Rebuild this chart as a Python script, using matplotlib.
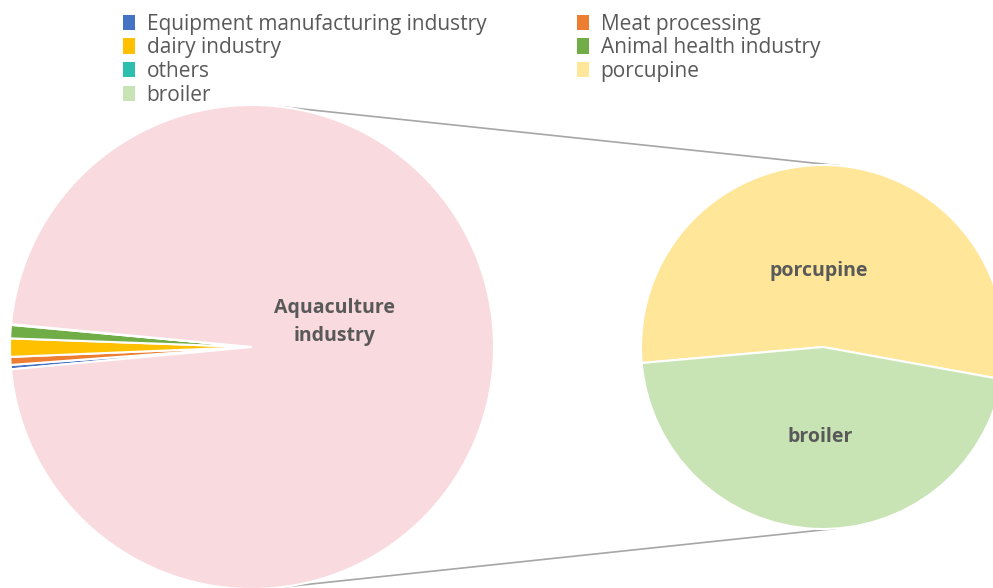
import matplotlib.pyplot as plt
from matplotlib.patches import Patch
import numpy as np

plt.rcParams['font.family'] = ['Open Sans', 'DejaVu Sans']

# main pie (Excel "pie of pie"): small slices + combined slice
main_labels = ['Equipment manufacturing industry', 'Meat processing', 'dairy industry',
               'Animal health industry', 'others']
main_values = [0.29, 0.53, 1.22, 0.89, 0.05]
main_colors = ['#4472C4', '#ED7D31', '#FFC000', '#70AD47', '#2DBFAE']

# secondary pie
sub_labels = ['porcupine', 'broiler']
sub_values = [52.66, 44.41]
sub_colors = ['#FFE699', '#C9E4B4']

combined_label = 'Aquaculture\nindustry'
combined_color = '#F9DADF'

W, H = 993, 588
fig = plt.figure(figsize=(W / 100, H / 100), dpi=100)
ax = fig.add_axes([0, 0, 1, 1])
ax.set_xlim(0, W)
ax.set_ylim(0, H)
ax.set_aspect('equal')
ax.axis('off')

c1, r1 = (252, H - 347), 242
c2, r2 = (823, H - 347), 182

vals = main_values + [sum(sub_values)]
cols = main_colors + [combined_color]
ax.pie(vals, colors=cols, center=c1, radius=r1, startangle=185.3,
       counterclock=False, wedgeprops=dict(edgecolor='white', linewidth=1.5),
       frame=True)
ax.text(c1[0] + 83, c1[1] + 25, combined_label, ha='center', va='center',
        fontsize=14, fontweight='bold', color='#595959', linespacing=1.55)

ax.pie(sub_values, colors=sub_colors, center=c2, radius=r2, startangle=185.05,
       counterclock=False, wedgeprops=dict(edgecolor='white', linewidth=1.5),
       frame=True)
ax.text(c2[0] - 4, c2[1] + 76, sub_labels[0], ha='center', va='center',
        fontsize=14, fontweight='bold', color='#595959')
ax.text(c2[0] - 3, c2[1] - 90, sub_labels[1], ha='center', va='center',
        fontsize=14, fontweight='bold', color='#595959')

# connector lines
for a1, a2 in [(83.4, 84.7), (-82.5, -86.2)]:
    p1 = (c1[0] + r1 * np.cos(np.radians(a1)), c1[1] + r1 * np.sin(np.radians(a1)))
    p2 = (c2[0] + r2 * np.cos(np.radians(a2)), c2[1] + r2 * np.sin(np.radians(a2)))
    ax.plot([p1[0], p2[0]], [p1[1], p2[1]], color='#A6A6A6', lw=1.2, zorder=0)

ax.set_xlim(0, W)
ax.set_ylim(0, H)

# legend, row-major in the picture -> reorder for column-major fill
all_labels = main_labels + sub_labels
all_colors = main_colors + sub_colors
order = [0, 2, 4, 6, 1, 3, 5]
handles = [Patch(facecolor=all_colors[i], label=all_labels[i]) for i in order]
ax.legend(handles=handles, ncol=2, frameon=False, loc='upper left',
          bbox_to_anchor=(108 / W, 1 + 1 / H), fontsize=15, handlelength=0.6,
          handleheight=0.75, handletextpad=0.55, labelspacing=0.13, columnspacing=4.35,
          borderpad=0.2, labelcolor='#595959')

fig.savefig('out.png', dpi=100)
